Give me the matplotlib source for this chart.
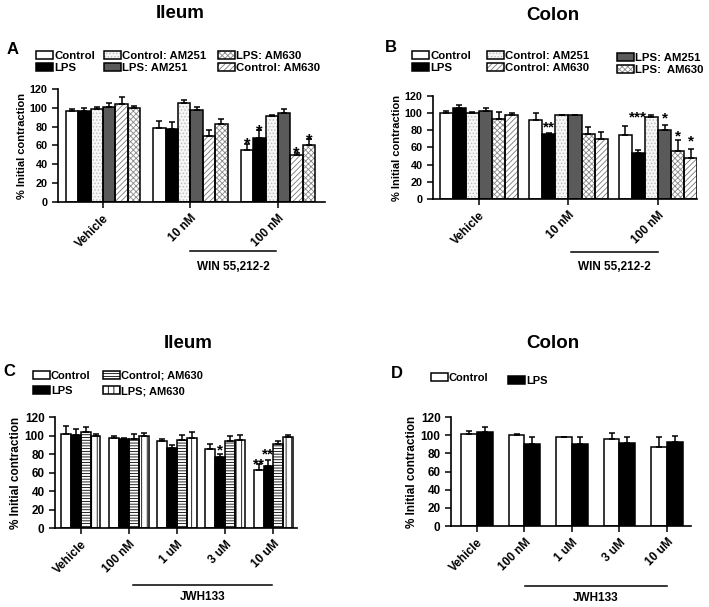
#recreating the ileum / colon contraction bar charts (4 panels)

import matplotlib
matplotlib.use('Agg')
import matplotlib.pyplot as plt
import numpy as ny

plt.rcParams['font.family'] = ['Liberation Sans', 'DejaVu Sans']
plt.rcParams['font.weight'] = 'bold'
plt.rcParams['hatch.linewidth'] = 0.6

#---- data ----
win_doses = ['Vehicle', '10 nM', '100 nM']
jwh_doses = ['Vehicle', '100 nM', '1 uM', '3 uM', '10 uM']

#panel A, ileum + WIN 55,212-2 (bar order inside a group)
a_labels = ['Control', 'LPS', 'Control: AM251', 'LPS: AM251', 'Control: AM630', 'LPS: AM630']
a_mean = [[97, 79, 55], [97, 77, 68], [99, 105, 91.5], [101, 98, 95], [104, 70, 50], [100, 83, 60]]
a_sem = [[2, 7, 7], [3, 8, 8], [2, 3, 1], [4, 2.5, 3.5], [8, 6, 2], [2, 5, 6.5]]
a_stars = [(0, 2, '*', 65), (1, 2, '*', 79), (4, 2, '*', 56), (5, 2, '*', 70)]

#panel B, colon + WIN 55,212-2
b_labels = ['Control', 'LPS', 'Control: AM251', 'LPS: AM251', 'LPS:  AM630', 'Control: AM630']
b_mean = [[100, 92.5, 75], [106, 75.5, 54], [100, 97.5, 95], [102.5, 97.5, 80], [93.5, 76, 56], [98, 70, 47.5]]
b_sem = [[2, 7.5, 10], [3, 1.5, 2.5], [1, 0.8, 3], [3.5, 0.8, 6], [7.5, 8, 12.5], [2, 8, 11]]
b_stars = [(1, 1, '**', 89), (1, 2, '***', 100), (3, 2, '*', 99), (4, 2, '*', 78), (5, 2, '*', 72)]

#panel C, ileum + JWH133
c_labels = ['Control', 'LPS', 'Control; AM630', 'LPS; AM630']
c_mean = [[101.5, 97.5, 94, 85, 63], [100.5, 96, 87, 77, 67.5], [103.5, 96, 95, 94, 91], [99, 99.5, 97, 95, 98]]
c_sem = [[8.5, 2, 2, 6, 6], [6.5, 1, 3, 3, 6], [6, 5.5, 6, 5.5, 3], [2.5, 3, 6.5, 5.5, 2.5]]
c_stars = [(1, 3, '*', 89), (0, 4, '**', 73.5), (1, 4, '**', 84)]

#panel D, colon + JWH133
d_labels = ['Control', 'LPS']
d_mean = [[101, 100.5, 97.5, 96, 87], [103.5, 90, 90.5, 91, 92.5]]
d_sem = [[4, 0.5, 1, 6, 11.5], [5.5, 8, 7, 7, 6.5]]

#bar looks: face colour, hatch, hatch colour
looks = {
    'Control': ('white', '', 'white'),
    'LPS': ('black', '', 'black'),
    'Control: AM251': ('#f6f6f6', '.....', '#bbbbbb'),
    'LPS: AM251': ('#5a5a5a', '', '#5a5a5a'),
    'Control: AM630': ('white', '//////', '#777777'),
    'LPS: AM630': ('white', 'xxxxxx', '#888888'),
    'LPS:  AM630': ('white', 'xxxxxx', '#888888'),
    'Control; AM630': ('white', '------', 'black'),
    'LPS; AM630': ('white', '|||', 'black'),
}


def px(x, y):
    #figure pixel -> figure fraction
    return x / 709.0, 1 - y / 607.0


def bars(ax, labels, means, sems, group_w, stars, tick_fs, lab_fs, star_fs):
    n = len(labels)
    ng = len(means[0])
    centers = ny.arange(ng)
    w = group_w / n
    handles = {}
    xs = []
    for i, lab in enumerate(labels):
        fc, hatch, hc = looks[lab]
        x = centers - group_w / 2 + w * (i + 0.5)
        xs.append(x)
        f = ax.bar(x, means[i], w, color=fc, hatch=hatch, edgecolor=hc, linewidth=0, zorder=2)
        e = ax.bar(x, means[i], w, fill=False, edgecolor='black', linewidth=1.1, zorder=3)
        ax.errorbar(x, means[i], yerr=[ny.zeros(ng), sems[i]], fmt='none', ecolor='black',
                    elinewidth=1.1, capsize=2.5, capthick=1.1, zorder=4)
        handles[lab] = (f.patches[0], e.patches[0])
    for (i, g, s, yc) in stars:
        ax.annotate(s, (xs[i][g], yc), xytext=(0, -0.56 * star_fs), textcoords='offset points',
                    ha='center', va='baseline', fontsize=star_fs, fontweight='bold', zorder=5)
    ax.set_ylim(0, 120)
    ax.set_yticks(ny.arange(0, 121, 20))
    ax.set_xticks(centers)
    ax.spines['top'].set_visible(False)
    ax.spines['right'].set_visible(False)
    for sp in ['left', 'bottom']:
        ax.spines[sp].set_linewidth(1.2)
    ax.tick_params(axis='both', direction='out', length=4, width=1.1, labelsize=tick_fs)
    ax.set_ylabel('% Initial contraction', fontsize=lab_fs, fontweight='bold', labelpad=2)
    return handles


def dose_labels(ax, names, fs):
    ax.set_xticklabels(names, rotation=45, ha='right', rotation_mode='anchor', fontsize=fs, fontweight='bold')


def drug_line(ax, x0, x1, yl, yt, name, fs):
    tr = ax.get_xaxis_transform()
    ax.plot([x0, x1], [yl, yl], color='black', lw=1.1, transform=tr, clip_on=False)
    ax.text((x0 + x1) / 2, yt, name, transform=tr, ha='center', va='center', fontsize=fs, fontweight='bold')


def legend_col(fig, handles, labels, x, y, fs, spacing=0.15):
    fig.legend([handles[l] for l in labels], labels, loc='upper left', bbox_to_anchor=px(x, y),
               frameon=False, borderpad=0, borderaxespad=0, handlelength=1.5, handleheight=0.7,
               handletextpad=0.1, labelspacing=spacing, prop={'size': fs, 'weight': 'bold'})


fig = plt.figure(figsize=(7.09, 6.07), dpi=100)

#---- A ----
axA = fig.add_axes([0.0818, 0.6672, 0.3766, 0.1862])
hA = bars(axA, a_labels, a_mean, a_sem, 0.85, a_stars, 7.8, 8, 12)
axA.set_xlim(-0.514, 2.537)
dose_labels(axA, win_doses, 8.5)
drug_line(axA, 1.0, 1.98, -0.434, -0.575, 'WIN 55,212-2', 8.5)
legend_col(fig, hA, ['Control', 'LPS'], 36, 51, 8.2)
legend_col(fig, hA, ['Control: AM251', 'LPS: AM251'], 104, 51, 8.2)
legend_col(fig, hA, ['LPS: AM630', 'Control: AM630'], 218, 51, 8.2)

#---- B ----
axB = fig.add_axes([0.6107, 0.6722, 0.3724, 0.1697])
hB = bars(axB, b_labels, b_mean, b_sem, 0.88, b_stars, 7.8, 8, 11)
axB.set_xlim(-0.514, 2.436)
dose_labels(axB, win_doses, 8.5)
drug_line(axB, 1.03, 2.0, -0.515, -0.66, 'WIN 55,212-2', 8.5)
legend_col(fig, hB, ['Control', 'LPS'], 412, 51, 8.2)
legend_col(fig, hB, ['Control: AM251', 'Control: AM630'], 487, 51, 8.2)
legend_col(fig, hB, ['LPS: AM251', 'LPS:  AM630'], 617, 53, 8.2)

#---- C ----
axC = fig.add_axes([0.0776, 0.1301, 0.3413, 0.1829])
hC = bars(axC, c_labels, c_mean, c_sem, 0.82, c_stars, 8.5, 8.5, 11)
axC.set_xlim(-0.533, 4.49)
dose_labels(axC, jwh_doses, 8.5)
drug_line(axC, 1.085, 3.97, -0.514, -0.62, 'JWH133', 8.5)
legend_col(fig, hC, ['Control', 'LPS'], 33, 371, 8, 0.45)
legend_col(fig, hC, ['Control; AM630', 'LPS; AM630'], 103, 371, 8, 0.45)

#---- D ----
axD = fig.add_axes([0.6361, 0.1334, 0.3385, 0.1796])
hD = bars(axD, d_labels, d_mean, d_sem, 0.667, [], 8.5, 8.5, 10)
axD.set_xlim(-0.547, 4.505)
dose_labels(axD, jwh_doses, 8.5)
drug_line(axD, 1.01, 4.0, -0.55, -0.66, 'JWH133', 8.5)
legend_col(fig, hD, ['Control'], 431, 373, 8)
legend_col(fig, hD, ['LPS'], 508, 376, 8)

#titles and panel letters
for (t, x, y) in [('Ileum', 180, 13), ('Colon', 553, 15), ('Ileum', 188, 343), ('Colon', 553, 343)]:
    fig.text(*px(x, y), t, ha='center', va='center', fontsize=13.5, fontweight='bold')
for (t, x, y) in [('A', 12.5, 49), ('B', 391, 48), ('C', 9, 372), ('D', 397, 373)]:
    fig.text(*px(x, y), t, ha='center', va='center', fontsize=12, fontweight='bold')

fig.savefig('out.png', dpi=100)
